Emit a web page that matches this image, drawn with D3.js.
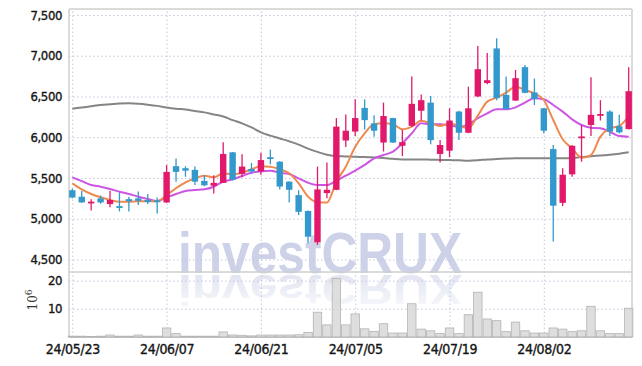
<!DOCTYPE html>
<html lang="en">
<head>
<meta charset="UTF-8"/>
<title>Candlestick Chart</title>
<script src="https://d3js.org/d3.v7.min.js"></script>
<style>
    body { margin: 0; background: #fff; }
    .tick text { font-family: "Liberation Sans Narrow", "DejaVu Sans Condensed", "Liberation Sans", sans-serif; fill: #151515; stroke: #151515; stroke-width: 0.35px; }
    .grid .tick line { stroke: #c3c7dc; stroke-dasharray: 1.5, 2.5; }
    .grid .domain { display: none; }
</style>
</head>
<body>
<script>
    var w = 642;
    var h = 366;

    // trading days
    var dates = [
        "24/05/23", "24/05/24", "24/05/27", "24/05/28", "24/05/29", "24/05/30", "24/05/31",
        "24/06/03", "24/06/04", "24/06/05", "24/06/07", "24/06/10", "24/06/11", "24/06/12",
        "24/06/13", "24/06/14", "24/06/17", "24/06/18", "24/06/19", "24/06/20", "24/06/21",
        "24/06/24", "24/06/25", "24/06/26", "24/06/27", "24/06/28", "24/07/01", "24/07/02",
        "24/07/03", "24/07/04", "24/07/05", "24/07/08", "24/07/09", "24/07/10", "24/07/11",
        "24/07/12", "24/07/15", "24/07/16", "24/07/17", "24/07/18", "24/07/19", "24/07/22",
        "24/07/23", "24/07/24", "24/07/25", "24/07/26", "24/07/29", "24/07/30", "24/07/31",
        "24/08/01", "24/08/02", "24/08/05", "24/08/06", "24/08/07", "24/08/08", "24/08/09",
        "24/08/12", "24/08/13", "24/08/14", "24/08/16"
    ];

    var open = [5350, 5270, 5200, 5250, 5180, 5155, 5240, 5250, 5230, 5225,
                5200, 5645, 5620, 5600, 5465, 5405, 5440, 5815, 5550, 5610,
                5580, 5755, 5700, 5455, 5290, 5095, 4710, 5315, 5355, 5960,
                6070, 6360, 6170, 5935, 6235, 5895, 6140, 6325, 6425, 5795,
                5835, 6315, 6055, 6500, 6665, 7090, 6520, 6450, 6860, 6550,
                6355, 5855, 5195, 5545, 6000, 6150, 6265, 6315, 6135, 6100];
    var high = [5370, 5340, 5240, 5285, 5345, 5320, 5270, 5335, 5305, 5260,
                5660, 5740, 5645, 5640, 5535, 5535, 5940, 5820, 5790, 5685,
                5810, 5850, 5705, 5460, 5350, 5100, 5640, 5690, 6235, 6280,
                6465, 6465, 6270, 6425, 6240, 6090, 6745, 6525, 6505, 5965,
                6355, 6325, 6620, 7120, 7035, 7215, 6745, 6825, 6885, 6720,
                6360, 5905, 5620, 5905, 6150, 6735, 6455, 6330, 6275, 6860];
    var low  = [5250, 5195, 5100, 5185, 5140, 5090, 5090, 5170, 5180, 5065,
                5195, 5455, 5515, 5415, 5400, 5310, 5440, 5470, 5510, 5550,
                5540, 5670, 5360, 5200, 5045, 4700, 4680, 5250, 5350, 5880,
                6015, 6095, 6005, 5825, 5930, 5770, 6125, 6205, 5915, 5690,
                5755, 5965, 6050, 6495, 6650, 6455, 6340, 6445, 6540, 6395,
                6045, 4720, 5155, 5515, 5700, 6015, 6205, 6015, 6045, 6095];
    var close = [5260, 5200, 5210, 5200, 5230, 5135, 5215, 5220, 5205, 5205,
                 5575, 5575, 5590, 5455, 5410, 5440, 5795, 5480, 5640, 5580,
                 5720, 5745, 5395, 5355, 5085, 4780, 5360, 5355, 6130, 6080,
                 6235, 6210, 6080, 6260, 5935, 5940, 6410, 6455, 5965, 5905,
                 6205, 6055, 6355, 6835, 6700, 6480, 6345, 6725, 6545, 6470,
                 6080, 5160, 5540, 5895, 6010, 6275, 6285, 6070, 6060, 6565];

    // volume, 10^6 shares
    var volume = [0.3, 0.3, 0.2, 0.3, 0.7, 0.3, 0.3, 0.7, 0.3, 0.3,
                  3.2, 1.2, 0.3, 0.3, 0.3, 0.3, 1.8, 0.7, 0.6, 0.4,
                  0.7, 0.7, 0.7, 0.7, 0.8, 1.6, 8.8, 4.3, 20.8, 4.3,
                  8.2, 2.9, 2.0, 4.7, 1.4, 1.4, 11.8, 2.8, 2.2, 1.2,
                  3.2, 1.2, 7.9, 15.9, 6.4, 5.8, 1.9, 5.3, 2.2, 1.4,
                  1.4, 3.2, 2.8, 1.9, 2.2, 10.9, 2.2, 1.2, 1.2, 10.2];

    // moving averages
    var ma5 = [5435, 5361, 5304, 5263, 5230, 5209, 5209, 5214, 5214, 5214,
               5291, 5374, 5447, 5496, 5528, 5508, 5558, 5545, 5565, 5607,
               5643, 5639, 5607, 5558, 5435, 5271, 5202, 5198, 5455, 5639,
               5884, 6048, 6159, 6171, 6159, 6097, 6130, 6203, 6171, 6138,
               6168, 6138, 6112, 6265, 6437, 6486, 6547, 6620, 6580, 6539,
               6457, 6212, 5975, 5864, 5749, 5782, 6007, 6110, 6138, 6261];
    var ma20 = [5508, 5462, 5414, 5393, 5365, 5332, 5304, 5271, 5242, 5218,
                5263, 5304, 5341, 5353, 5361, 5393, 5455, 5484, 5525, 5565,
                5584, 5590, 5565, 5549, 5496, 5442, 5414, 5414, 5467, 5528,
                5590, 5660, 5742, 5782, 5823, 5926, 6048, 6171, 6159, 6159,
                6146, 6130, 6159, 6233, 6294, 6343, 6343, 6367, 6424, 6478,
                6466, 6396, 6314, 6220, 6150, 6117, 6110, 6068, 6015, 6007];
    var ma60 = [6350, 6365, 6380, 6395, 6405, 6415, 6418, 6412, 6400, 6385,
                6365, 6350, 6340, 6322, 6305, 6280, 6255, 6210, 6170, 6120,
                6060, 6020, 5985, 5950, 5910, 5860, 5820, 5785, 5770, 5765,
                5760, 5758, 5752, 5745, 5735, 5728, 5727, 5728, 5725, 5722,
                5720, 5717, 5713, 5718, 5728, 5733, 5738, 5742, 5742, 5742,
                5743, 5743, 5742, 5745, 5755, 5768, 5775, 5785, 5798, 5815];

    var priceTicks = [4500, 5000, 5500, 6000, 6500, 7000, 7500];
    var volTicks = [10, 20];
    var dateTicks = ["24/05/23", "24/06/07", "24/06/21", "24/07/05", "24/07/19", "24/08/02"];

    var plotLeft = 69, plotRight = 632, plotTop = 9, plotSplit = 272, plotBottom = 337;

    var upColor = "#e2196a";
    var downColor = "#3399cc";

    var xScale = d3.scalePoint().domain(dates).range([plotLeft, plotRight]).padding(0.35);
    var yScale = d3.scaleLinear().domain([4346.6, 7573.6]).range([plotSplit, plotTop]);
    var vScale = d3.scaleLinear().domain([0, 23.07]).range([plotBottom, plotSplit]);
    var step = xScale.step();

    var svg = d3.select("body").append("svg")
        .attr("width", w)
        .attr("height", h);

    svg.append("rect").attr("width", w).attr("height", h).attr("fill", "#fff");

    // watermark with reflection
    var defs = svg.append("defs");
    var grad = defs.append("linearGradient").attr("id", "fade")
        .attr("x1", 0).attr("y1", 0).attr("x2", 0).attr("y2", 1);
    grad.append("stop").attr("offset", "0%").attr("stop-color", "#cdd2e8").attr("stop-opacity", 0.1);
    grad.append("stop").attr("offset", "100%").attr("stop-color", "#cdd2e8").attr("stop-opacity", 0.7);

    svg.append("text")
        .attr("x", 178).attr("y", 273)
        .attr("textLength", 284).attr("lengthAdjust", "spacingAndGlyphs")
        .style("font-family", "'Liberation Sans', Arial, sans-serif")
        .style("font-weight", "bold")
        .style("font-size", "58px")
        .attr("fill", "#cdd2e8")
        .text("investCRUX");

    svg.append("text")
        .attr("transform", "translate(0,274) scale(1,-0.72) translate(0,-274)")
        .attr("x", 178).attr("y", 273)
        .attr("textLength", 284).attr("lengthAdjust", "spacingAndGlyphs")
        .style("font-family", "'Liberation Sans', Arial, sans-serif")
        .style("font-weight", "bold")
        .style("font-size", "58px")
        .attr("fill", "url(#fade)")
        .text("investCRUX");

    // grid and axes
    var gx = svg.append("g")
        .attr("class", "grid")
        .attr("transform", "translate(0," + plotBottom + ")")
        .call(d3.axisBottom(xScale).tickValues(dateTicks).tickSize(-(plotBottom - plotTop)).tickPadding(7));
    gx.selectAll(".tick text")
        .style("font-size", "14px")
        .style("letter-spacing", "-0.3px");

    var gy = svg.append("g")
        .attr("class", "grid")
        .attr("transform", "translate(" + plotLeft + ",0)")
        .call(d3.axisLeft(yScale).tickValues(priceTicks).tickSize(-(plotRight - plotLeft)).tickPadding(7).tickFormat(d3.format(",")));
    gy.selectAll(".tick text").style("font-size", "13px").style("letter-spacing", "-0.4px");

    var gv = svg.append("g")
        .attr("class", "grid")
        .attr("transform", "translate(" + plotLeft + ",0)")
        .call(d3.axisLeft(vScale).tickValues(volTicks).tickSize(-(plotRight - plotLeft)).tickPadding(7));
    gv.selectAll(".tick text").style("font-size", "13px").style("letter-spacing", "-0.4px");

    // 10^6 label
    var unit = svg.append("text")
        .attr("transform", "translate(37,300) rotate(-90)")
        .attr("text-anchor", "middle")
        .style("font-family", "'DejaVu Serif', 'Liberation Serif', serif")
        .style("font-size", "12px")
        .attr("fill", "#333");
    unit.append("tspan").text("10");
    unit.append("tspan").attr("dy", -5).style("font-size", "9px").text("6");

    // frame
    var frame = svg.append("g").attr("fill", "none").attr("stroke", "#cfcfcf").attr("stroke-width", 1.5);
    frame.append("line").attr("x1", plotLeft).attr("x2", plotLeft).attr("y1", plotTop).attr("y2", plotBottom);
    frame.append("line").attr("x1", plotRight).attr("x2", plotRight).attr("y1", plotTop).attr("y2", plotBottom);
    frame.append("line").attr("x1", plotLeft).attr("x2", plotRight).attr("y1", plotTop).attr("y2", plotTop);
    frame.append("line").attr("x1", plotLeft).attr("x2", plotRight).attr("y1", plotSplit).attr("y2", plotSplit);
    frame.append("line").attr("x1", plotLeft).attr("x2", plotRight).attr("y1", plotBottom).attr("y2", plotBottom)
        .attr("stroke", "#b5b5b5");

    // volume bars
    svg.append("g").selectAll("rect")
        .data(dates)
        .enter().append("rect")
        .attr("x", function(d) { return xScale(d) - step / 2 + 0.5; })
        .attr("width", step - 1)
        .attr("y", function(d, i) { return vScale(volume[i]); })
        .attr("height", function(d, i) { return plotBottom - vScale(volume[i]); })
        .attr("fill", "#d8d8d8")
        .attr("fill-opacity", 0.85)
        .attr("stroke", "#b3b3b3")
        .attr("stroke-width", 0.8);

    // moving average lines
    function maLine(arr) {
        return d3.line()
            .x(function(d) { return xScale(d); })
            .y(function(d, i) { return yScale(arr[i]); })
            .curve(d3.curveMonotoneX);
    }
    svg.append("path").datum(dates).attr("d", maLine(ma60))
        .attr("fill", "none").attr("stroke", "#858585").attr("stroke-width", 2);
    svg.append("path").datum(dates).attr("d", maLine(ma20))
        .attr("fill", "none").attr("stroke", "#cd55e3").attr("stroke-width", 2);
    svg.append("path").datum(dates).attr("d", maLine(ma5))
        .attr("fill", "none").attr("stroke", "#ee8a50").attr("stroke-width", 2);

    // candles
    var candles = svg.append("g").selectAll("g")
        .data(dates)
        .enter().append("g");

    candles.append("line")
        .attr("x1", function(d) { return xScale(d); })
        .attr("x2", function(d) { return xScale(d); })
        .attr("y1", function(d, i) { return yScale(high[i]); })
        .attr("y2", function(d, i) { return yScale(low[i]); })
        .attr("stroke", function(d, i) { return close[i] >= open[i] ? upColor : downColor; })
        .attr("stroke-width", 1.3);

    candles.append("rect")
        .attr("x", function(d) { return xScale(d) - 3.2; })
        .attr("width", 6.4)
        .attr("y", function(d, i) { return yScale(Math.max(open[i], close[i])); })
        .attr("height", function(d, i) {
            return Math.max(1.8, Math.abs(yScale(open[i]) - yScale(close[i])));
        })
        .attr("fill", function(d, i) { return close[i] >= open[i] ? upColor : downColor; });
</script>
</body>
</html>
